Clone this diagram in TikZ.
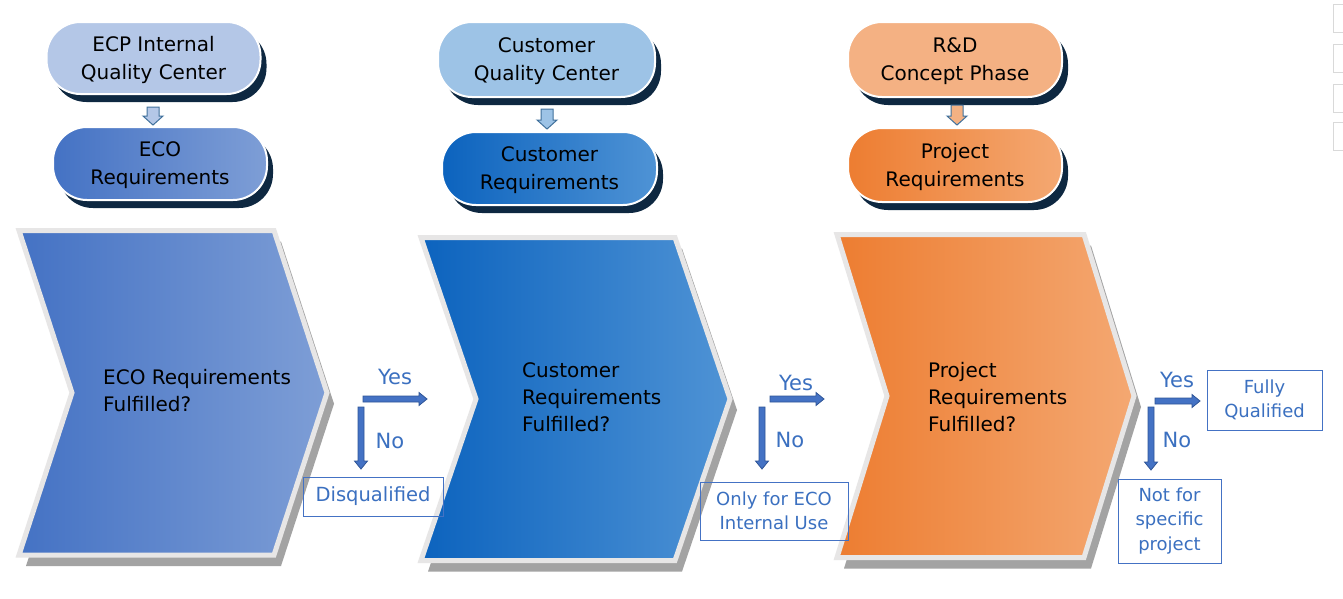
\documentclass[tikz,border=0pt]{standalone}
\usepackage{fontspec}
\setmainfont{DejaVu Sans}
\usetikzlibrary{shadows,calc}
\definecolor{chevshadow}{HTML}{A3A3A3}
\definecolor{chevedge}{HTML}{E7E6E6}
\definecolor{cAl}{HTML}{4472C4}\definecolor{cAr}{HTML}{7E9ED6}
\definecolor{cBl}{HTML}{0C63BE}\definecolor{cBr}{HTML}{4F93D5}
\definecolor{cCl}{HTML}{ED7D31}\definecolor{cCr}{HTML}{F4A872}
\definecolor{pAtop}{HTML}{B4C7E7}
\definecolor{pBtop}{HTML}{9DC3E6}
\definecolor{pCtop}{HTML}{F4B183}
\definecolor{pillshadow}{HTML}{0E2841}
\definecolor{yesnofill}{HTML}{4472C4}
\definecolor{yesnoedge}{HTML}{2F5597}
\definecolor{bluetext}{HTML}{3B70C0}
\definecolor{boxedge}{HTML}{4472C4}
\definecolor{arrowedge}{HTML}{41719C}
\definecolor{iconedge}{HTML}{D9D9D9}
\newcommand{\mychevron}[7]{%
  \fill[chevshadow, shift={(7,11)}] (#1,#2) -- (#3,#2) -- ({#3+#5},{(#2+#4)/2}) -- (#3,#4) -- (#1,#4) -- ({#1+#5},{(#2+#4)/2}) -- cycle;
  \draw[draw=chevedge, line width=5pt, left color=#6, right color=#7] (#1,#2) -- (#3,#2) -- ({#3+#5},{(#2+#4)/2}) -- (#3,#4) -- (#1,#4) -- ({#1+#5},{(#2+#4)/2}) -- cycle;}
\newcommand{\harrow}[2]{%
  \filldraw[yesno] ($(#1)+(0,-3)$) -- ($(#2)+(-8,-3)$) -- ($(#2)+(-8,-6.5)$) -- (#2) -- ($(#2)+(-8,6.5)$) -- ($(#2)+(-8,3)$) -- ($(#1)+(0,3)$) -- cycle;}
\newcommand{\varrow}[2]{%
  \filldraw[yesno] ($(#1)+(-3,0)$) -- ($(#2)+(-3,-8)$) -- ($(#2)+(-6.5,-8)$) -- (#2) -- ($(#2)+(6.5,-8)$) -- ($(#2)+(3,-8)$) -- ($(#1)+(3,0)$) -- cycle;}
\newcommand{\pillarrow}[3]{%
  \filldraw[fill=#3, draw=arrowedge, line width=1pt] ($(#1)+(-6,0)$) -- ($(#2)+(-6,-9)$) -- ($(#2)+(-10,-9)$) -- (#2) -- ($(#2)+(10,-9)$) -- ($(#2)+(6,-9)$) -- ($(#1)+(6,0)$) -- cycle;}
\begin{document}
\begin{tikzpicture}[x=1pt,y=-1pt,
  yesno/.style={fill=yesnofill, draw=yesnoedge, line width=0.8pt},
  pill/.style={rectangle, rounded corners=34pt, draw=white, line width=2pt, inner sep=0pt, align=center,
     font=\fontsize{20}{28}\selectfont, text=black, text depth=0pt,
     drop shadow={shadow xshift=6pt, shadow yshift=-8pt, fill=pillshadow, opacity=1}},
  chevtext/.style={anchor=west, align=left, inner sep=0pt, font=\fontsize{20}{27}\selectfont, text=black},
  yn/.style={inner sep=0pt, font=\fontsize{21}{25}\selectfont, text=bluetext},
  result/.style={draw=boxedge, line width=1pt, inner sep=0pt, align=center, text=bluetext,
     font=\fontsize{18}{24.5}\selectfont}]
\useasboundingbox (0,0) rectangle (1343,598);
\fill[white] (0,0) rectangle (1343,598);

% chevrons
\mychevron{19}{230.5}{274}{555}{53}{cAl}{cAr}
\mychevron{421}{237.5}{675}{560.5}{55}{cBl}{cBr}
\mychevron{837}{234.5}{1084}{557.5}{50}{cCl}{cCr}

\node[chevtext] (t1) at (103,391) {ECO Requirements\\Fulfilled?};
\node[chevtext] (t2) at (522,397) {Customer\\Requirements\\Fulfilled?};
\node[chevtext] (t3) at (928,397) {Project\\Requirements\\Fulfilled?};

% pills
\node[pill, fill=pAtop, minimum width=214pt, minimum height=72pt] (p1t) at (153.5,58) {ECP Internal\\Quality Center};
\node[pill, left color=cAl, right color=cAr, minimum width=214pt, minimum height=73pt] (p1b) at (160,163.5) {ECO\\Requirements};
\node[pill, fill=pBtop, minimum width=217pt, minimum height=75pt] (p2t) at (546.5,59.5) {Customer\\Quality Center};
\node[pill, left color=cBl, right color=cBr, minimum width=215pt, minimum height=73pt] (p2b) at (549.5,168.5) {Customer\\Requirements};
\node[pill, fill=pCtop, minimum width=214pt, minimum height=75pt] (p3t) at (955,59.5) {R\&D\\Concept Phase};
\node[pill, left color=cCl, right color=cCr, minimum width=214pt, minimum height=74pt] (p3b) at (955,165) {Project\\Requirements};

\coordinate (a1s) at (153,107); \coordinate (a1e) at (153,125);
\coordinate (a2s) at (547,109); \coordinate (a2e) at (547,129);
\coordinate (a3s) at (957,105); \coordinate (a3e) at (957,125);
\pillarrow{a1s}{a1e}{pAtop}
\pillarrow{a2s}{a2e}{pBtop}
\pillarrow{a3s}{a3e}{pCtop}

% result boxes
\node[result, minimum width=140pt, minimum height=39pt, font=\fontsize{19.5}{25}\selectfont] (r1) at (373,496.5) {Disqualified};
\node[result, minimum width=148pt, minimum height=58pt] (r2) at (774,511) {Only for ECO\\Internal Use};
\node[result, minimum width=115pt, minimum height=60pt] (r3) at (1264.5,400) {Fully\\Qualified};
\node[result, minimum width=103pt, minimum height=84pt] (r4) at (1169.5,521) {Not for\\specific\\project};

% yes/no arrows
\coordinate (y1s) at (363,399); \coordinate (y1e) at (427,399);
\coordinate (n1s) at (361,407); \coordinate (n1e) at (361,469);
\coordinate (y2s) at (770,399); \coordinate (y2e) at (824,399);
\coordinate (n2s) at (762,407); \coordinate (n2e) at (762,469);
\coordinate (y3s) at (1155,401); \coordinate (y3e) at (1200,401);
\coordinate (n3s) at (1151,407); \coordinate (n3e) at (1151,470);
\harrow{y1s}{y1e} \varrow{n1s}{n1e}
\harrow{y2s}{y2e} \varrow{n2s}{n2e}
\harrow{y3s}{y3e} \varrow{n3s}{n3e}

\node[yn] (ly1) at (395,377) {Yes};
\node[yn] (ln1) at (390,441) {No};
\node[yn] (ly2) at (796,383) {Yes};
\node[yn] (ln2) at (790,440) {No};
\node[yn] (ly3) at (1177,380) {Yes};
\node[yn] (ln3) at (1177,440) {No};

% edge toolbar
\foreach \yy in {4,44,84,122} {
  \draw[draw=iconedge, fill=white] (1333,\yy) rectangle (1352,\yy+28);
}
\end{tikzpicture}
\end{document}
